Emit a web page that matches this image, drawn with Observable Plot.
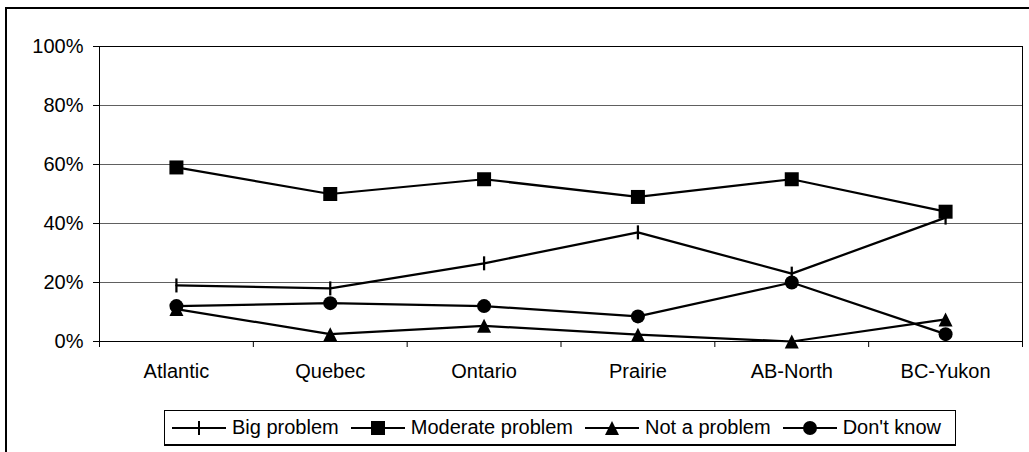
<!DOCTYPE html>
<html>
<head>
<meta charset="utf-8">
<script src="https://cdn.jsdelivr.net/npm/d3@7"></script>
<script src="https://cdn.jsdelivr.net/npm/@observablehq/plot@0.6"></script>
<style>
  html, body { margin: 0; padding: 0; background: #fff; }
  #wrap { position: relative; width: 1029px; height: 452px; overflow: hidden; font-family: "Liberation Sans", Arial, sans-serif; }
  #outer { position: absolute; left: 5px; top: 7px; width: 1100px; height: 500px; border-left: 2px solid #000; border-top: 2px solid #000; }
  #chart { position: absolute; left: 0; top: 0; }
  #legend { position: absolute; left: 164px; top: 410px; width: 792px; height: 36px; box-sizing: border-box;
            border: 1px solid #000; border-bottom-width: 2px; background: #fff;
            display: flex; align-items: center; padding-left: 7px; font-size: 20px; color: #000; white-space: nowrap; }
  #legend .item { display: flex; align-items: center; margin-right: 12px; }
  #legend svg { margin-right: 6px; display: block; }
</style>
</head>
<body>
<div id="wrap">
  <div id="outer"></div>
  <div id="chart"></div>
  <div id="legend"></div>
</div>
<script>
// Regions along the x axis
const regions = ["Atlantic", "Quebec", "Ontario", "Prairie", "AB-North", "BC-Yukon"];

// Share of respondents (%) per region for each answer
const bigProblem = [19, 18, 26.5, 37, 23, 42];
const moderateProblem = [59, 50, 55, 49, 55, 44];
const notAProblem = [11, 2.5, 5.3, 2.3, 0, 7.5];
const dontKnow = [12, 13, 12, 8.5, 20, 2.5];

const seriesNames = ["Big problem", "Moderate problem", "Not a problem", "Don't know"];
const yTicks = [0, 20, 40, 60, 80, 100];

// Marker shapes (size = r²π, so h = r)
const plusSym = {draw(ctx, size) { const h = Math.sqrt(size / Math.PI); ctx.moveTo(0, -h); ctx.lineTo(0, h); }};
const squareSym = {draw(ctx, size) { const h = Math.sqrt(size / Math.PI); ctx.moveTo(-h, -h); ctx.lineTo(h, -h); ctx.lineTo(h, h); ctx.lineTo(-h, h); ctx.closePath(); }};
const triangleSym = {draw(ctx, size) { const h = Math.sqrt(size / Math.PI); ctx.moveTo(0, -h); ctx.lineTo(h, h); ctx.lineTo(-h, h); ctx.closePath(); }};

const series = [
  {name: seriesNames[0], values: bigProblem, symbol: plusSym, fill: "none", stroke: "#000"},
  {name: seriesNames[1], values: moderateProblem, symbol: squareSym, fill: "#000", stroke: "none"},
  {name: seriesNames[2], values: notAProblem, symbol: triangleSym, fill: "#000", stroke: "none"},
  {name: seriesNames[3], values: dontKnow, symbol: "circle", fill: "#000", stroke: "none"}
];

// Long table: each region sits in the middle of its unit slot on a [0, n] x scale
const rows = series.flatMap(s => s.values.map((v, i) => ({pos: i + 0.5, value: v, series: s.name})));
const centers = regions.map((_, i) => i + 0.5);
const bounds = d3.range(regions.length + 1);

const marks = [
  Plot.gridY([20, 40, 60, 80], {stroke: "#606060", strokeOpacity: 1}),
  Plot.frame({stroke: "#000"}),
  Plot.axisY({ticks: yTicks, tickFormat: d => d + "%", tickSize: 6, tickPadding: 10, fontSize: 20, label: null}),
  Plot.axisX({ticks: bounds, tickSize: 6, tickFormat: () => "", label: null}),
  Plot.axisX({ticks: centers, tickSize: 0, tickPadding: 22, tickFormat: d => regions[Math.round(d - 0.5)], fontSize: 20, label: null}),
  ...series.flatMap(s => [
    Plot.line(rows.filter(r => r.series === s.name), {x: "pos", y: "value", stroke: "#000", strokeWidth: 2.25}),
    Plot.dot(rows.filter(r => r.series === s.name), {x: "pos", y: "value", r: 7, symbol: () => s.symbol, fill: s.fill, stroke: s.stroke, strokeWidth: 2.25})
  ])
];

const chart = Plot.plot({
  width: 1029,
  height: 400,
  marginLeft: 99,
  marginRight: 7,
  marginTop: 46,
  marginBottom: 59,
  style: {fontFamily: "'Liberation Sans', Arial, sans-serif", fontSize: "20px", color: "#000", background: "transparent", overflow: "visible"},
  x: {type: "linear", domain: [0, regions.length], axis: null},
  y: {domain: [0, 100], axis: null},
  symbol: {type: "identity"},
  marks
});
document.getElementById("chart").appendChild(chart);

// Legend: line with the series marker, then its name
const swatchPath = {
  [seriesNames[0]]: '<path d="M27,20V34" stroke="#000" stroke-width="2" fill="none"/>',
  [seriesNames[1]]: '<rect x="20" y="20" width="14" height="14" fill="#000"/>',
  [seriesNames[2]]: '<path d="M27,20L34,34L20,34Z" fill="#000"/>',
  [seriesNames[3]]: '<circle cx="27" cy="27" r="7" fill="#000"/>'
};
const legend = document.getElementById("legend");
seriesNames.forEach(name => {
  const item = document.createElement("div");
  item.className = "item";
  item.innerHTML = '<svg width="54" height="20" viewBox="0 17 54 20"><line x1="0" x2="54" y1="27" y2="27" stroke="#000" stroke-width="2"/>' +
    swatchPath[name] + '</svg><span></span>';
  item.querySelector("span").textContent = name;
  legend.appendChild(item);
});
</script>
</body>
</html>
